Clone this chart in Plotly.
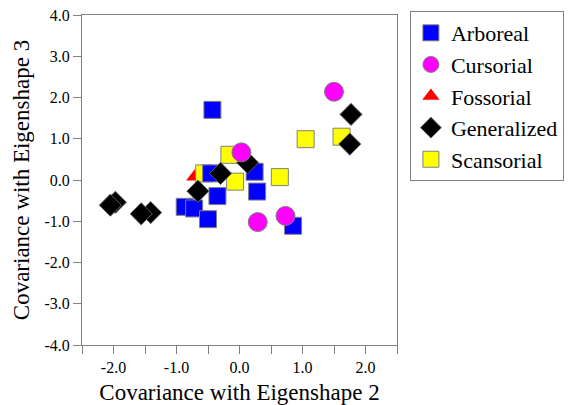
import plotly.graph_objects as go

# Data
arboreal_x = [-0.43, -0.45, 0.24, -0.35, 0.28, -0.87, -0.72, -0.50, 0.85]
arboreal_y = [1.70, 0.16, 0.20, -0.39, -0.28, -0.65, -0.69, -0.95, -1.11]

cursorial_x = [1.50, 0.03, 0.29, 0.73]
cursorial_y = [2.14, 0.67, -1.02, -0.87]

fossorial_x = [-0.71]
fossorial_y = [0.08]

generalized_x = [1.77, 1.75, 0.13, -0.30, -0.66, -1.97, -2.05, -1.41, -1.56]
generalized_y = [1.59, 0.87, 0.42, 0.16, -0.27, -0.54, -0.61, -0.79, -0.82]

scansorial_x = [1.05, 1.62, -0.16, 0.64, -0.56, -0.07]
scansorial_y = [0.99, 1.05, 0.61, 0.07, 0.16, -0.04]

x_tickvals = [-2.5, -2.0, -1.5, -1.0, -0.5, 0.0, 0.5, 1.0, 1.5, 2.0, 2.5]
x_ticktext = ["", "-2.0", "", "-1.0", "", "0.0", "", "1.0", "", "2.0", ""]
y_tickvals = [-4, -3, -2, -1, 0, 1, 2, 3, 4]
y_ticktext = ["-4.0", "-3.0", "-2.0", "-1.0", "0.0", "1.0", "2.0", "3.0", "4.0"]

FONT = "Liberation Serif, Times New Roman, serif"
OUTLINE = dict(color="#808080", width=1)

fig = go.Figure()

# drawing order chosen to match overlaps; legend order via legendrank
fig.add_trace(go.Scatter(x=fossorial_x, y=fossorial_y, mode="markers", name="Fossorial",
                         legendrank=3, legendgroup="f",
                         marker=dict(symbol="triangle-up", size=15, color="#FF0000", line=dict(width=0))))
fig.add_trace(go.Scatter(x=scansorial_x, y=scansorial_y, mode="markers", name="Scansorial",
                         legendrank=5, legendgroup="s",
                         marker=dict(symbol="square", size=17, color="#FFFF00", line=OUTLINE)))
fig.add_trace(go.Scatter(x=arboreal_x, y=arboreal_y, mode="markers", name="Arboreal",
                         legendrank=1, legendgroup="a",
                         marker=dict(symbol="square", size=17, color="#0000FF", line=OUTLINE)))
fig.add_trace(go.Scatter(x=generalized_x, y=generalized_y, mode="markers", name="Generalized",
                         legendrank=4, legendgroup="g",
                         marker=dict(symbol="diamond", size=17, color="#000000", line=dict(color="#606060", width=1))))
fig.add_trace(go.Scatter(x=cursorial_x, y=cursorial_y, mode="markers", name="Cursorial",
                         legendrank=2, legendgroup="c",
                         marker=dict(symbol="circle", size=19, color="#FF00FF", line=OUTLINE)))

axis_common = dict(
    showgrid=False, zeroline=False, showline=True, linecolor="#808080", linewidth=1,
    mirror=True, ticks="outside", ticklen=8, tickcolor="#808080", tickwidth=1,
    tickfont=dict(family=FONT, size=16, color="#000000"),
)

fig.update_xaxes(range=[-2.5, 2.5], tickmode="array", tickvals=x_tickvals, ticktext=x_ticktext,
                 title=dict(text="Covariance with Eigenshape 2", font=dict(family=FONT, size=23, color="#000000"),
                            standoff=14),
                 **axis_common)
fig.update_yaxes(range=[-4, 4], tickmode="array", tickvals=y_tickvals, ticktext=y_ticktext,
                 title=dict(text="Covariance with Eigenshape 3", font=dict(family=FONT, size=23, color="#000000"),
                            standoff=8),
                 **axis_common)

fig.update_layout(
    width=570, height=405,
    margin=dict(l=82, r=173, t=15, b=60, autoexpand=False),
    paper_bgcolor="white", plot_bgcolor="white",
    font=dict(family=FONT, color="#000000"),
    legend=dict(
        x=1.041, y=1.012, xanchor="left", yanchor="top",
        bordercolor="#808080", borderwidth=1,
        font=dict(family=FONT, size=22, color="#000000"),
        tracegroupgap=6, traceorder="normal",
        itemwidth=30,
    ),
)

fig.write_html("out.html")
